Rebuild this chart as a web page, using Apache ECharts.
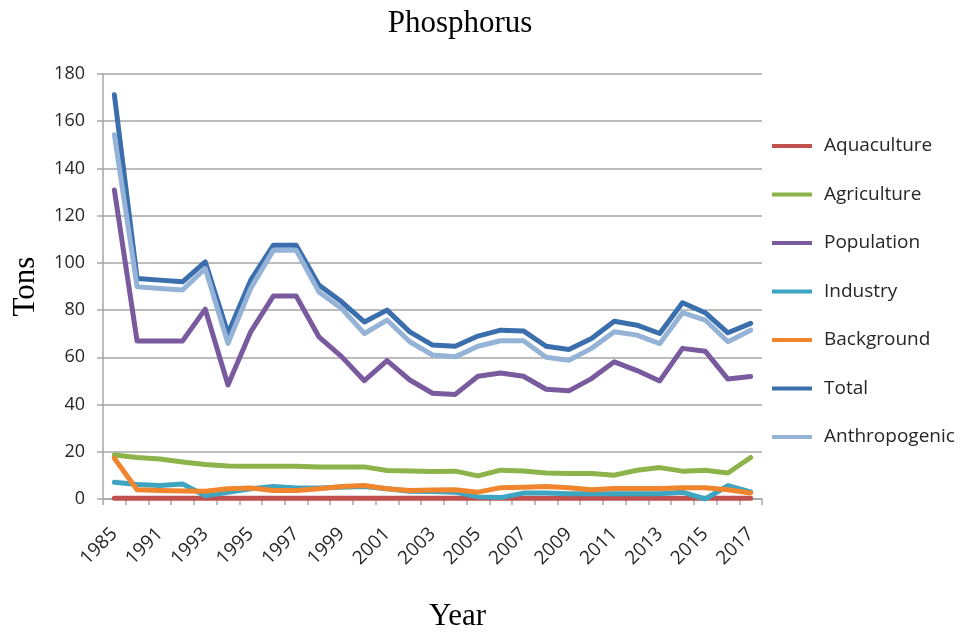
<!DOCTYPE html>
<html>
<head>
<meta charset="utf-8">
<script src="https://cdn.jsdelivr.net/npm/echarts@6/dist/echarts.min.js"></script>
<style>
  html, body { margin: 0; padding: 0; background: #fff; }
  #chart { width: 965px; height: 635px; }
</style>
</head>
<body>
<div id="chart"></div>
<script>
// Annual phosphorus loads by source (tons)
const years = ['1985', '1990', '1991', '1992', '1993', '1994', '1995', '1996', '1997', '1998',
  '1999', '2000', '2001', '2002', '2003', '2004', '2005', '2006', '2007', '2008',
  '2009', '2010', '2011', '2012', '2013', '2014', '2015', '2016', '2017'];

const aquaculture = [0.3, 0.3, 0.3, 0.3, 0.3, 0.3, 0.3, 0.3, 0.3, 0.3,
  0.3, 0.3, 0.3, 0.3, 0.3, 0.3, 0.3, 0.3, 0.3, 0.3,
  0.3, 0.3, 0.3, 0.3, 0.3, 0.3, 0.3, 0.3, 0.3];

const agriculture = [18.6, 17.6, 16.9, 15.7, 14.6, 14.0, 13.9, 13.9, 13.9, 13.6,
  13.6, 13.6, 12.1, 11.9, 11.6, 11.8, 9.8, 12.2, 11.9, 11.0,
  10.8, 10.8, 10.1, 12.2, 13.3, 11.8, 12.2, 11.0, 17.6];

const population = [130.9, 66.9, 66.9, 66.9, 80.4, 48.3, 70.8, 86.0, 86.0, 68.7,
  60.3, 50.1, 58.6, 50.4, 44.8, 44.3, 52.0, 53.4, 52.0, 46.5,
  45.8, 51.0, 58.1, 54.4, 50.0, 63.8, 62.6, 50.8, 51.9];

const industry = [7.1, 6.1, 5.7, 6.4, 1.4, 2.8, 4.3, 5.3, 4.7, 4.7,
  5.0, 5.3, 4.3, 3.3, 3.2, 2.9, 0.9, 0.6, 2.5, 2.5,
  2.2, 2.2, 2.2, 2.2, 2.2, 2.9, 0.0, 5.6, 3.0];

const background = [17.2, 3.9, 3.6, 3.4, 3.3, 4.3, 4.7, 3.6, 3.6, 4.3,
  5.3, 5.7, 4.3, 3.6, 3.8, 3.9, 2.9, 4.8, 5.0, 5.3,
  4.8, 3.9, 4.4, 4.4, 4.4, 4.8, 4.8, 3.9, 2.5];

const total = [171.2, 93.4, 92.7, 92.0, 100.4, 70.1, 92.7, 107.5, 107.5, 90.6,
  83.5, 75.0, 80.0, 70.8, 65.2, 64.7, 69.0, 71.5, 71.2, 64.7,
  63.3, 68.0, 75.3, 73.6, 70.1, 83.1, 78.9, 70.4, 74.4];

const anthropogenic = [154.3, 89.9, 89.2, 88.5, 97.6, 65.9, 89.2, 105.4, 105.4, 87.7,
  80.7, 70.1, 75.8, 66.6, 61.0, 60.2, 64.7, 67.0, 67.0, 60.0,
  58.8, 63.8, 70.8, 69.4, 65.8, 78.9, 75.8, 66.6, 71.5];

const yTicks = { min: 0, max: 180, step: 20 };

const seriesDefs = [
  { name: 'Aquaculture', data: aquaculture, color: '#C0504D' },
  { name: 'Agriculture', data: agriculture, color: '#8DB44A' },
  { name: 'Population', data: population, color: '#7A5A9E' },
  { name: 'Industry', data: industry, color: '#3DA5C0' },
  { name: 'Background', data: background, color: '#F0852D' },
  { name: 'Total', data: total, color: '#3A6EAD' },
  { name: 'Anthropogenic', data: anthropogenic, color: '#95B3D7' }
];

const serif = '"Liberation Serif", "DejaVu Serif", serif';
const sans = '"Open Sans", "Noto Sans", sans-serif';

const chart = echarts.init(document.getElementById('chart'), null, { renderer: 'canvas' });

chart.setOption({
  animation: false,
  backgroundColor: '#ffffff',
  title: {
    text: 'Phosphorus',
    left: 455,
    textAlign: 'center',
    top: 3,
    textStyle: { fontFamily: serif, fontSize: 31, fontWeight: 'normal', color: '#000' }
  },
  legend: {
    orient: 'vertical',
    left: 772,
    top: 136,
    padding: 0,
    itemGap: 28.5,
    itemWidth: 40,
    itemHeight: 4,
    icon: 'rect',
    textStyle: { fontFamily: sans, fontSize: 19, lineHeight: 20, color: '#262626', padding: [0, 0, 0, 7] },
    data: seriesDefs.map(s => s.name)
  },
  grid: { left: 103, right: 203, top: 74, bottom: 136, containLabel: false, outerBoundsMode: 'none' },
  xAxis: {
    type: 'category',
    data: years,
    boundaryGap: true,
    name: 'Year',
    nameLocation: 'middle',
    nameGap: 102,
    nameTextStyle: { fontFamily: serif, fontSize: 31, color: '#000', padding: [0, 0, 0, 50] },
    axisLine: { lineStyle: { color: '#A6A6A6', width: 1.5 } },
    axisTick: { show: true, length: 6, interval: 0, lineStyle: { color: '#A6A6A6', width: 1.5 } },
    axisLabel: {
      interval: 1,
      rotate: 45,
      margin: 32,
      fontFamily: sans,
      fontSize: 19,
      color: '#262626'
    },
    splitLine: { show: false }
  },
  yAxis: {
    type: 'value',
    min: yTicks.min,
    max: yTicks.max,
    interval: yTicks.step,
    name: 'Tons',
    nameLocation: 'middle',
    nameGap: 62,
    nameRotate: 90,
    nameTextStyle: { fontFamily: serif, fontSize: 31, color: '#000' },
    axisLine: { show: true, lineStyle: { color: '#A6A6A6', width: 1.5 } },
    axisTick: { show: true, length: 6, lineStyle: { color: '#A6A6A6', width: 1.5 } },
    axisLabel: { margin: 18, fontFamily: sans, fontSize: 18, color: '#262626' },
    splitLine: { show: true, lineStyle: { color: '#A6A6A6', width: 1.5 } }
  },
  series: seriesDefs.map(s => ({
    name: s.name,
    type: 'line',
    data: s.data,
    symbol: 'none',
    smooth: false,
    color: s.color,
    lineStyle: { width: 5, color: s.color, join: 'round', cap: 'round' },
    itemStyle: { color: s.color }
  }))
});
</script>
</body>
</html>
